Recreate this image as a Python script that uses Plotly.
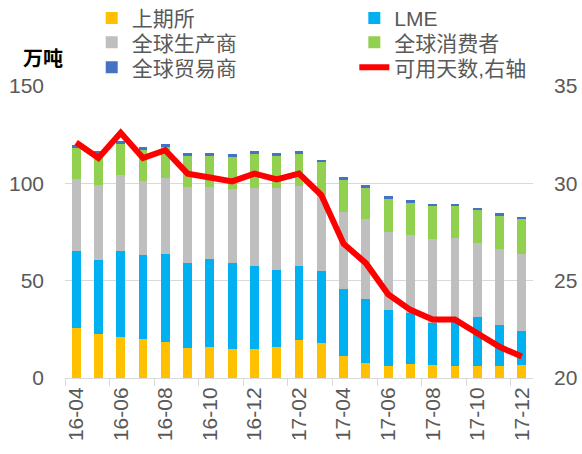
import plotly.graph_objects as go

months = ["16-04", "16-05", "16-06", "16-07", "16-08", "16-09", "16-10", "16-11", "16-12",
          "17-01", "17-02", "17-03", "17-04", "17-05", "17-06", "17-07", "17-08", "17-09",
          "17-10", "17-11", "17-12"]
shfe = [25.9, 22.8, 21.1, 20.0, 18.7, 15.4, 15.9, 14.9, 15.1, 15.9, 19.5, 18.0, 11.3, 7.5,
        6.2, 7.4, 6.5, 6.2, 6.2, 6.2, 6.5]
lme = [39.2, 37.6, 44.0, 43.0, 45.0, 43.7, 45.1, 44.2, 42.4, 39.4, 38.2, 37.0, 34.6, 32.9,
       28.7, 26.2, 21.9, 24.8, 25.1, 21.0, 17.8]
producers = [37.0, 38.9, 39.4, 38.4, 39.2, 39.2, 36.9, 37.8, 40.3, 42.1, 41.1, 38.8, 39.2,
             41.1, 40.3, 40.0, 43.2, 40.7, 38.2, 38.9, 39.2]
consumers = [16.1, 15.6, 15.9, 15.5, 15.8, 15.7, 16.1, 16.5, 17.3, 16.5, 16.3, 17.2, 16.8,
             16.3, 16.6, 16.3, 16.8, 16.7, 16.8, 17.3, 18.0]
traders = [1.3, 1.5, 1.5, 1.6, 1.5, 1.6, 1.6, 1.5, 1.3, 1.5, 1.3, 1.2, 1.4, 1.2, 1.5, 1.7,
           1.2, 1.2, 1.2, 1.2, 1.4]
days = [32.1, 31.3, 32.6, 31.3, 31.7, 30.5, 30.3, 30.1, 30.5, 30.2, 30.5, 29.4, 26.9, 25.9,
        24.3, 23.5, 23.0, 23.0, 22.3, 21.6, 21.1]

names = ["上期所", "LME", "全球生产商", "全球消费者", "全球贸易商"]
series = [shfe, lme, producers, consumers, traders]
colors = ["#FFC000", "#00B0F0", "#BFBFBF", "#92D050", "#4472C4"]

# one legend per entry, laid out as 2 columns x 3 rows like the original
legend_ids = ["legend", "legend2", "legend3", "legend4", "legend5", "legend6"]
legend_x = [0.1576, 0.6088, 0.1576, 0.6088, 0.1576, 0.6088]
legend_y = [0.9597, 0.9597, 0.9059, 0.9059, 0.8509, 0.8509]

fig = go.Figure()
for i, (n, s, c) in enumerate(zip(names, series, colors)):
    fig.add_trace(go.Bar(x=months, y=s, name=n, legend=legend_ids[i],
                         marker=dict(color=c, line=dict(width=0)), width=0.4))
fig.add_trace(go.Scatter(x=months, y=days, name="可用天数,右轴", yaxis="y2", mode="lines",
                         legend=legend_ids[5],
                         line=dict(color="#FF0000", width=6)))

tickfont = dict(family="Liberation Sans, Noto Sans CJK SC", size=21, color="#595959")
legend_font = dict(family="Liberation Sans, Noto Sans CJK SC", size=21, color="#595959")
legends = {}
for lid, lx, ly in zip(legend_ids, legend_x, legend_y):
    legends[lid] = dict(xref="container", yref="container", x=lx, y=ly,
                        xanchor="left", yanchor="middle", orientation="v",
                        font=legend_font, bgcolor="rgba(0,0,0,0)", borderwidth=0)

fig.update_layout(
    width=582, height=454,
    margin=dict(l=65, r=49, t=86, b=76, autoexpand=False),
    barmode="stack",
    plot_bgcolor="white", paper_bgcolor="white",
    font=dict(family="Liberation Sans, Noto Sans CJK SC", color="#595959"),
    xaxis=dict(type="category", tickmode="linear", tick0=0, dtick=2, tickson="boundaries",
               ticks="outside", ticklen=7, tickcolor="#D9D9D9", tickangle=-90,
               showline=True, linecolor="#D9D9D9", linewidth=1, showgrid=False,
               tickfont=dict(family="Liberation Sans", size=21, color="#595959")),
    yaxis=dict(range=[0, 150], dtick=50, showgrid=True, gridcolor="#D9D9D9", gridwidth=1,
               zeroline=False, ticks="", tickfont=tickfont, ticklabelstandoff=20),
    yaxis2=dict(range=[20, 35], dtick=5, overlaying="y", side="right", showgrid=False,
                zeroline=False, ticks="", tickfont=tickfont, ticklabelstandoff=20),
    showlegend=True,
    annotations=[dict(text="<b>万吨</b>", xref="paper", yref="paper", x=-0.048, y=1.096,
                      xanchor="center", yanchor="middle", showarrow=False,
                      font=dict(family="Noto Sans CJK SC", size=20, color="#000000"))],
    **legends,
)
fig.write_html("out.html", config={"displayModeBar": False},
               post_script="document.body.style.margin='0';")
